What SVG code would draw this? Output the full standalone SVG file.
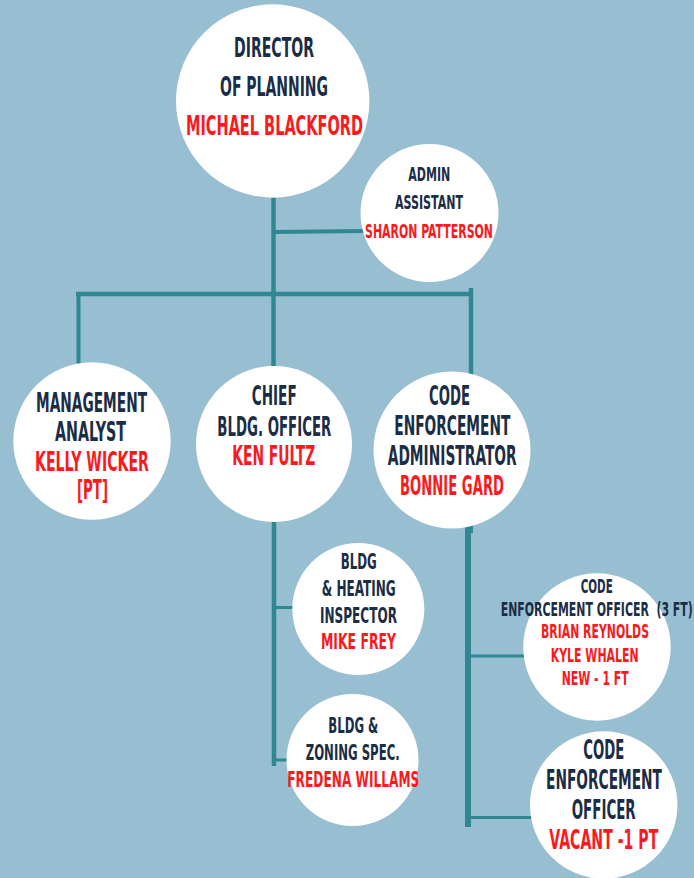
<svg xmlns="http://www.w3.org/2000/svg" width="694" height="878" viewBox="0 0 694 878">
<style>
.bg{fill:#98bed2}
.c{fill:#ffffff}
.ln{stroke:#2f8792;fill:none;stroke-linecap:butt}
text{font-family:"DejaVu Sans Condensed","Liberation Sans Narrow","Roboto","DejaVu Sans",sans-serif;font-weight:bold;white-space:pre}
.d{fill:#1b2d45}
.r{fill:#fa1a1e}
.s26{font-size:26px}
.s21{font-size:21px}
.s20{font-size:20px}
</style>
<rect class="bg" x="0" y="0" width="694" height="878"/>
<g id="connectors">
<line class="ln" x1="273.5" y1="190" x2="273.5" y2="372" stroke-width="4.5"/>
<line class="ln" x1="273.5" y1="232" x2="364" y2="231" stroke-width="4"/>
<line class="ln" x1="76" y1="294" x2="473" y2="294" stroke-width="4.5"/>
<line class="ln" x1="78.5" y1="292" x2="78.5" y2="368" stroke-width="4"/>
<line class="ln" x1="471" y1="288" x2="471" y2="378" stroke-width="4.5"/>
<line class="ln" x1="274" y1="515" x2="274" y2="766" stroke-width="4.5"/>
<line class="ln" x1="274" y1="607.5" x2="295" y2="607.5" stroke-width="3"/>
<line class="ln" x1="274" y1="760" x2="290" y2="760" stroke-width="3"/>
<line class="ln" x1="468" y1="525" x2="468" y2="827" stroke-width="6"/>
<rect x="465" y="525" width="8" height="8" fill="#2f8792"/>
<line class="ln" x1="470" y1="656" x2="526" y2="656" stroke-width="3"/>
<line class="ln" x1="470" y1="817.5" x2="533" y2="817.5" stroke-width="3"/>
</g>
<g id="director">
<circle class="c" cx="272.7" cy="101" r="96.7"/>
<text class="d s26" x="234" y="57.3" textLength="80" lengthAdjust="spacingAndGlyphs">DIRECTOR</text>
<text class="d s26" x="220" y="96.3" textLength="108" lengthAdjust="spacingAndGlyphs">OF PLANNING</text>
<text class="r s26" x="186" y="135" textLength="177" lengthAdjust="spacingAndGlyphs">MICHAEL BLACKFORD</text>
</g>
<g id="admin-assistant">
<circle class="c" cx="429.5" cy="213" r="69"/>
<text class="d s20" x="408.3" y="180.7" textLength="42" lengthAdjust="spacingAndGlyphs">ADMIN</text>
<text class="d s20" x="395" y="209" textLength="68" lengthAdjust="spacingAndGlyphs">ASSISTANT</text>
<text class="r s20" x="365" y="238.3" textLength="128" lengthAdjust="spacingAndGlyphs">SHARON PATTERSON</text>
</g>
<g id="management-analyst">
<circle class="c" cx="92" cy="441" r="78.7"/>
<text class="d s26" x="36" y="411.7" textLength="111" lengthAdjust="spacingAndGlyphs">MANAGEMENT</text>
<text class="d s26" x="55" y="440.7" textLength="71" lengthAdjust="spacingAndGlyphs">ANALYST</text>
<text class="r s26" x="35" y="470.7" textLength="114" lengthAdjust="spacingAndGlyphs">KELLY WICKER</text>
<text class="r s26" x="77" y="499" textLength="31" lengthAdjust="spacingAndGlyphs">[PT]</text>
</g>
<g id="chief-bldg-officer">
<circle class="c" cx="274" cy="444" r="78"/>
<text class="d s26" x="251.7" y="405" textLength="45" lengthAdjust="spacingAndGlyphs">CHIEF</text>
<text class="d s26" x="217.3" y="436" textLength="114" lengthAdjust="spacingAndGlyphs">BLDG. OFFICER</text>
<text class="r s26" x="232.3" y="465" textLength="83" lengthAdjust="spacingAndGlyphs">KEN FULTZ</text>
</g>
<g id="code-enforcement-admin">
<circle class="c" cx="452" cy="450" r="78.5"/>
<text class="d s26" x="429" y="405" textLength="41" lengthAdjust="spacingAndGlyphs">CODE</text>
<text class="d s26" x="394.3" y="435" textLength="116" lengthAdjust="spacingAndGlyphs">ENFORCEMENT</text>
<text class="d s26" x="387.7" y="465" textLength="129" lengthAdjust="spacingAndGlyphs">ADMINISTRATOR</text>
<text class="r s26" x="400" y="495" textLength="104" lengthAdjust="spacingAndGlyphs">BONNIE GARD</text>
</g>
<g id="bldg-heating-inspector">
<circle class="c" cx="358.3" cy="609" r="66"/>
<text class="d s21" x="340.7" y="569.3" textLength="36" lengthAdjust="spacingAndGlyphs">BLDG</text>
<text class="d s21" x="321.7" y="596" textLength="74" lengthAdjust="spacingAndGlyphs">&amp; HEATING</text>
<text class="d s21" x="320" y="622.7" textLength="77" lengthAdjust="spacingAndGlyphs">INSPECTOR</text>
<text class="r s21" x="321" y="649.3" textLength="75" lengthAdjust="spacingAndGlyphs">MIKE FREY</text>
</g>
<g id="bldg-zoning-spec">
<circle class="c" cx="352.5" cy="760" r="66"/>
<text class="d s21" x="328.3" y="733.3" textLength="50" lengthAdjust="spacingAndGlyphs">BLDG &amp;</text>
<text class="d s21" x="305.7" y="760" textLength="94" lengthAdjust="spacingAndGlyphs">ZONING SPEC.</text>
<text class="r s21" x="287.3" y="786.7" textLength="132" lengthAdjust="spacingAndGlyphs">FREDENA WILLAMS</text>
</g>
<g id="code-enforcement-officer-ft">
<circle class="c" cx="597" cy="647" r="73.7"/>
<text class="d s20" x="580.7" y="592.7" textLength="32" lengthAdjust="spacingAndGlyphs">CODE</text>
<text class="d s20" x="500.7" y="616" textLength="192" lengthAdjust="spacingAndGlyphs">ENFORCEMENT OFFICER  (3 FT)</text>
<text class="r s20" x="541" y="638.3" textLength="108" lengthAdjust="spacingAndGlyphs">BRIAN REYNOLDS</text>
<text class="r s20" x="550.7" y="661.7" textLength="88" lengthAdjust="spacingAndGlyphs">KYLE WHALEN</text>
<text class="r s20" x="561.7" y="685" textLength="67" lengthAdjust="spacingAndGlyphs">NEW - 1 FT</text>
</g>
<g id="code-enforcement-officer-pt">
<circle class="c" cx="603.7" cy="805" r="73.7"/>
<text class="d s26" x="583.3" y="759.3" textLength="41" lengthAdjust="spacingAndGlyphs">CODE</text>
<text class="d s26" x="546" y="789.3" textLength="116" lengthAdjust="spacingAndGlyphs">ENFORCEMENT</text>
<text class="d s26" x="571.7" y="819.3" textLength="64" lengthAdjust="spacingAndGlyphs">OFFICER</text>
<text class="r s26" x="549.3" y="849.3" textLength="109" lengthAdjust="spacingAndGlyphs">VACANT -1 PT</text>
</g>
</svg>
